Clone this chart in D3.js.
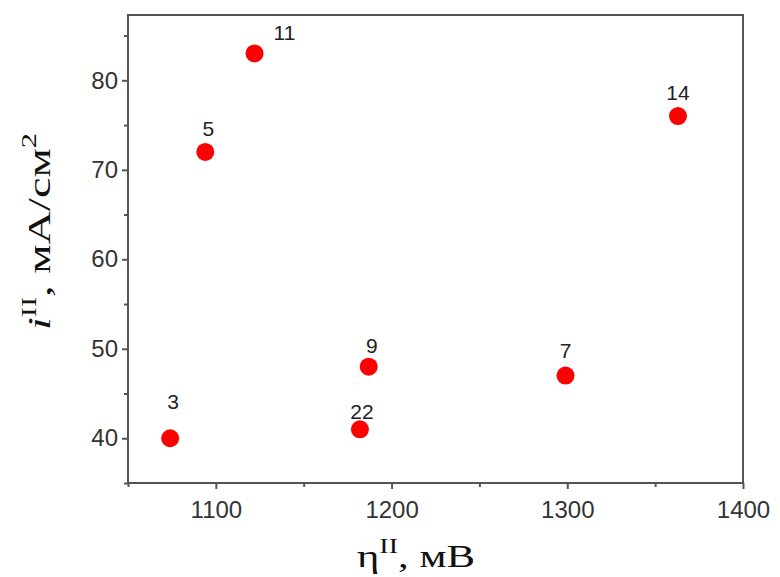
<!DOCTYPE html>
<html>
<head>
<meta charset="utf-8">
<title>scatter</title>
<style>
    body { margin: 0; background: #fff; }
    .axis path, .axis line { stroke: #555; stroke-width: 2px; }
    .axis text { font-family: Arial, "Liberation Sans", sans-serif; font-size: 24px; fill: #333; }
    .frame { fill: none; stroke: #555; stroke-width: 2px; }
    .pt-label { font-family: Arial, "Liberation Sans", sans-serif; font-size: 21px; fill: #222; text-anchor: middle; }
    .title { font-family: "Times New Roman", "Liberation Serif", serif; font-size: 32px; fill: #111; }
</style>
</head>
<body>
<svg id="chart" width="780" height="577"></svg>
<script src="https://cdn.jsdelivr.net/npm/d3@7"></script>
<script>
// data
var names = ['3', '5', '11', '22', '9', '7', '14'];
var eta = [1074, 1094, 1122, 1182, 1187, 1299, 1363];   // mV
var current = [40, 72, 83, 41, 48, 47, 76];            // mA/cm2
var labelOffsets = [[3, -29], [3, -16], [30, -13], [2, -10], [3, -14], [0, -18], [0, -16]];

var xMajor = [1100, 1200, 1300, 1400];
var xMinor = [1050, 1150, 1250, 1350];
var yMajor = [40, 50, 60, 70, 80];
var yMinor = [35, 45, 55, 65, 75, 85];

var svg = d3.select('#chart');
var box = {left: 128, right: 743, top: 15, bottom: 483};

var x = d3.scaleLinear().domain([1050, 1400]).range([box.left, box.right]);
var y = d3.scaleLinear().domain([35, 87.3]).range([box.bottom, box.top]);

// frame
svg.append('rect').attr('class', 'frame')
    .attr('x', box.left).attr('y', box.top)
    .attr('width', box.right - box.left).attr('height', box.bottom - box.top);

// axes
svg.append('g').attr('class', 'axis')
    .attr('transform', 'translate(0,' + box.bottom + ')')
    .call(d3.axisBottom(x).tickValues(xMajor).tickSize(6).tickPadding(12).tickFormat(d3.format('d')))
    .call(function(g) { g.select('.domain').remove(); });
svg.append('g').attr('class', 'axis')
    .attr('transform', 'translate(0,' + box.bottom + ')')
    .call(d3.axisBottom(x).tickValues(xMinor).tickSize(4).tickFormat(''))
    .call(function(g) { g.select('.domain').remove(); });

svg.append('g').attr('class', 'axis')
    .attr('transform', 'translate(' + box.left + ',0)')
    .call(d3.axisLeft(y).tickValues(yMajor).tickSize(6).tickPadding(4))
    .call(function(g) { g.select('.domain').remove(); });
svg.append('g').attr('class', 'axis')
    .attr('transform', 'translate(' + box.left + ',0)')
    .call(d3.axisLeft(y).tickValues(yMinor).tickSize(4).tickFormat(''))
    .call(function(g) { g.select('.domain').remove(); });

// points
svg.append('g').selectAll('circle')
    .data(eta)
    .enter()
    .append('circle')
    .attr('cx', function(d) { return x(d); })
    .attr('cy', function(d, i) { return y(current[i]); })
    .attr('r', 9)
    .attr('fill', '#ff0000');

svg.append('g').selectAll('text')
    .data(names)
    .enter()
    .append('text')
    .attr('class', 'pt-label')
    .attr('x', function(d, i) { return x(eta[i]) + labelOffsets[i][0]; })
    .attr('y', function(d, i) { return y(current[i]) + labelOffsets[i][1]; })
    .text(function(d) { return d; });

// x title (the original lettering is stretched wide)
var xt = svg.append('text').attr('class', 'title')
    .attr('x', 357).attr('y', 567)
    .attr('textLength', 118).attr('lengthAdjust', 'spacingAndGlyphs');
xt.append('tspan').text('η');
xt.append('tspan').attr('dy', -14).style('font-size', '21px').text('II');
xt.append('tspan').attr('dy', 14).text(', мВ');

// y title
var yt = svg.append('text').attr('class', 'title')
    .attr('transform', 'translate(50,330) rotate(-90)')
    .attr('textLength', 197).attr('lengthAdjust', 'spacingAndGlyphs');
yt.append('tspan').style('font-style', 'italic').text('i');
yt.append('tspan').attr('dy', -14).style('font-size', '21px').text('II');
yt.append('tspan').attr('dy', 14).text(', мА/см');
yt.append('tspan').attr('dy', -14).style('font-size', '21px').text('2');
</script>
</body>
</html>
